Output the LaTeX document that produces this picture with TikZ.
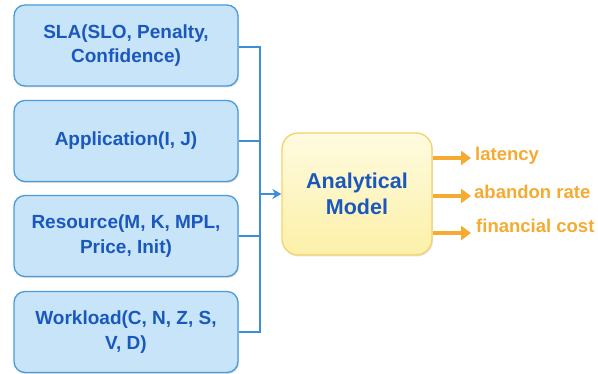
\documentclass[tikz,border=0pt]{standalone}
\usepackage{fontspec}
\setmainfont{Liberation Sans}
\usetikzlibrary{arrows.meta,shadows}
\definecolor{boxfill}{HTML}{C8E4F8}
\definecolor{boxline}{HTML}{4A9BDA}
\definecolor{boxtext}{HTML}{1A58BE}
\definecolor{modfill}{HTML}{FCF0A8}
\definecolor{modtop}{HTML}{FFFBE0}
\definecolor{modline}{HTML}{F2D36A}
\definecolor{outcol}{HTML}{F5AA32}
\definecolor{wire}{HTML}{3C8FD6}
\tikzset{
  inbox/.style={draw=boxline, line width=1.3pt, fill=boxfill, rounded corners=11pt,
    minimum width=224pt, minimum height=81pt, align=center, text=boxtext,
    font=\fontsize{19}{24.5}\selectfont\bfseries,
    drop shadow={shadow xshift=1pt, shadow yshift=-1.5pt, opacity=0.25}},
  modelbox/.style={draw=modline, line width=1.3pt, top color=modtop, bottom color=modfill,
    rounded corners=16pt, minimum width=150pt, minimum height=122pt, align=center,
    text=boxtext, font=\fontsize{21.5}{26}\selectfont\bfseries,
    drop shadow={shadow xshift=1pt, shadow yshift=-1.5pt, opacity=0.2}},
  wireline/.style={draw=wire, line width=1.4pt},
  outarrow/.style={draw=outcol, line width=3.2pt, -{Triangle[length=10pt,width=14pt]}},
  outlabel/.style={anchor=west, text=outcol, inner sep=0pt,
    font=\fontsize{18.5}{22}\selectfont\bfseries},
}
\begin{document}
\begin{tikzpicture}[x=1pt,y=-1pt]
\useasboundingbox (0,0) rectangle (598,374);
% input boxes
\node[inbox] (sla) at (126,45.5) {SLA(SLO, Penalty,\\Confidence)};
\node[inbox] (app) at (126,141) {Application(I, J)};
\node[inbox] (res) at (126,236) {Resource(M, K, MPL,\\Price, Init)};
\node[inbox] (wl)  at (126,332) {Workload(C, N, Z, S,\\V, D)};
% model
\node[modelbox] (model) at (357,194) {Analytical\\Model};
% collector bus
\coordinate (bt) at (260,47);
\coordinate (bb) at (260,332);
\coordinate (bm) at (260,194);
\draw[wireline] (sla.east |- bt) -- (bt) -- (bb) -- (wl.east |- bb);
\draw[wireline] (app.east) -- (app.east -| bt);
\draw[wireline] (res.east) -- (res.east -| bt);
\draw[wireline, -{Stealth[length=9pt,width=10pt]}] (bm) -- (model.west |- bm);
% outputs
\coordinate (o1) at (471,158);
\coordinate (o2) at (471,196);
\coordinate (o3) at (471,233);
\draw[outarrow] (model.east |- o1) -- (o1);
\draw[outarrow] (model.east |- o2) -- (o2);
\draw[outarrow] (model.east |- o3) -- (o3);
\node[outlabel] (l1) at (475,156) {latency};
\node[outlabel] (l2) at (474,192) {abandon rate};
\node[outlabel] (l3) at (476,226) {financial cost};
\end{tikzpicture}
\end{document}
